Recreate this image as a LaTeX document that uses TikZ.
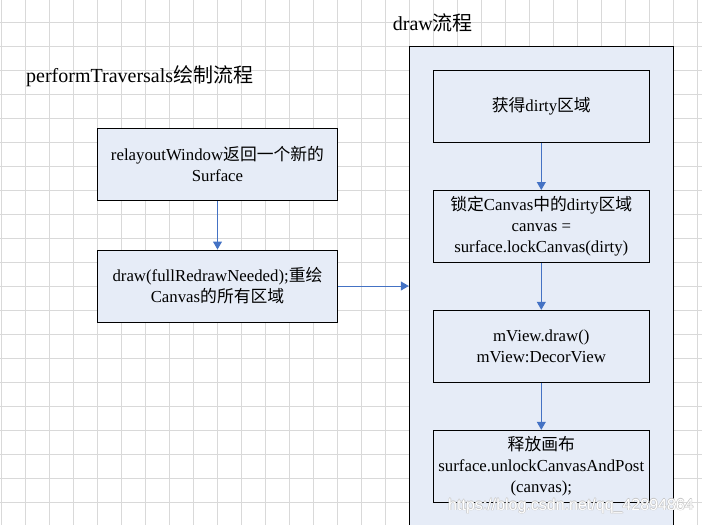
\documentclass[tikz,border=0pt]{standalone}
\usepackage{fontspec}
\setmainfont{Liberation Serif}
\newfontfamily\cjk{Noto Sans CJK SC}
\newfontfamily\wmfont{Liberation Sans}
\usetikzlibrary{arrows.meta}
\definecolor{boxfill}{HTML}{E6ECF7}
\definecolor{arrowblue}{HTML}{4472C4}
\definecolor{gridgray}{HTML}{D9D9D9}
\newcommand\zh[1]{{\cjk #1}}
\begin{document}
\begin{tikzpicture}[x=1pt,y=-1pt,
  box/.style={draw=black, line width=1pt, fill=boxfill, minimum width=240pt, minimum height=72pt, inner sep=0pt, align=center, font=\fontsize{16.8}{21}\selectfont},
  ibox/.style={box, minimum width=216pt},
  flow/.style={draw=arrowblue, line width=1pt, -{Triangle[width=9pt,length=8pt]}},
  title/.style={anchor=west, inner sep=0pt, font=\fontsize{20}{24}\selectfont},
  gridline/.style={draw=gridgray, line width=1pt},
  wmark/.style={font=\wmfont\fontsize{16}{16}\selectfont, inner sep=0pt}]
\path[use as bounding box] (0,0) rectangle (702,525);
\clip (0,0) rectangle (702,525);
\fill[white] (0,0) rectangle (702,525);
\foreach \i in {0,...,29} \draw[gridline] (1.5+24*\i,0) -- (1.5+24*\i,525);
\foreach \j in {0,...,20} \draw[gridline] (0,22.5+24*\j) -- (702,22.5+24*\j);

\node[title] (t1) at (26,76) {performTraversals\zh{绘制流程}};
\node[title] (t2) at (392.7,23) {draw\zh{流程}};

\node[box] (b1) at (217.5,164.3) {relayoutWindow\zh{返回一个新的}\\Surface};
\node[box] (b2) at (217.5,286) {draw(fullRedrawNeeded);\zh{重绘}\\Canvas\zh{的所有区域}};

\node[draw=black, line width=1pt, fill=boxfill, minimum width=264pt, minimum height=500pt, inner sep=0pt] (drawbox) at (541.3,296) {};

\node[ibox] (ba) at (541.3,106.3) {\zh{获得}dirty\zh{区域}};
\node[ibox] (bb) at (541.3,226.5) {\zh{锁定}Canvas\zh{中的}dirty\zh{区域}\\canvas =\\surface.lockCanvas(dirty)};
\node[ibox] (bc) at (541.3,346.3) {mView.draw()\\mView:DecorView};
\node[ibox] (bd) at (541.3,466.3) {\zh{释放画布}\\surface.unlockCanvasAndPost\\(canvas);};

\draw[flow] (b1) -- (b2);
\draw[flow] (b2.east) -- (b2.east -| drawbox.west);
\draw[flow] (ba) -- (bb);
\draw[flow] (bb) -- (bc);
\draw[flow] (bc) -- (bd);

\foreach \dx/\dy in {-0.6/0,0.6/0,0/-0.6,0/0.6}
  \node[wmark, text=black!22] at (571+\dx,506+\dy) {https://blog.csdn.net/qq\_42894864};
\node[wmark, text=white] (wm) at (571,506) {https://blog.csdn.net/qq\_42894864};
\end{tikzpicture}
\end{document}
